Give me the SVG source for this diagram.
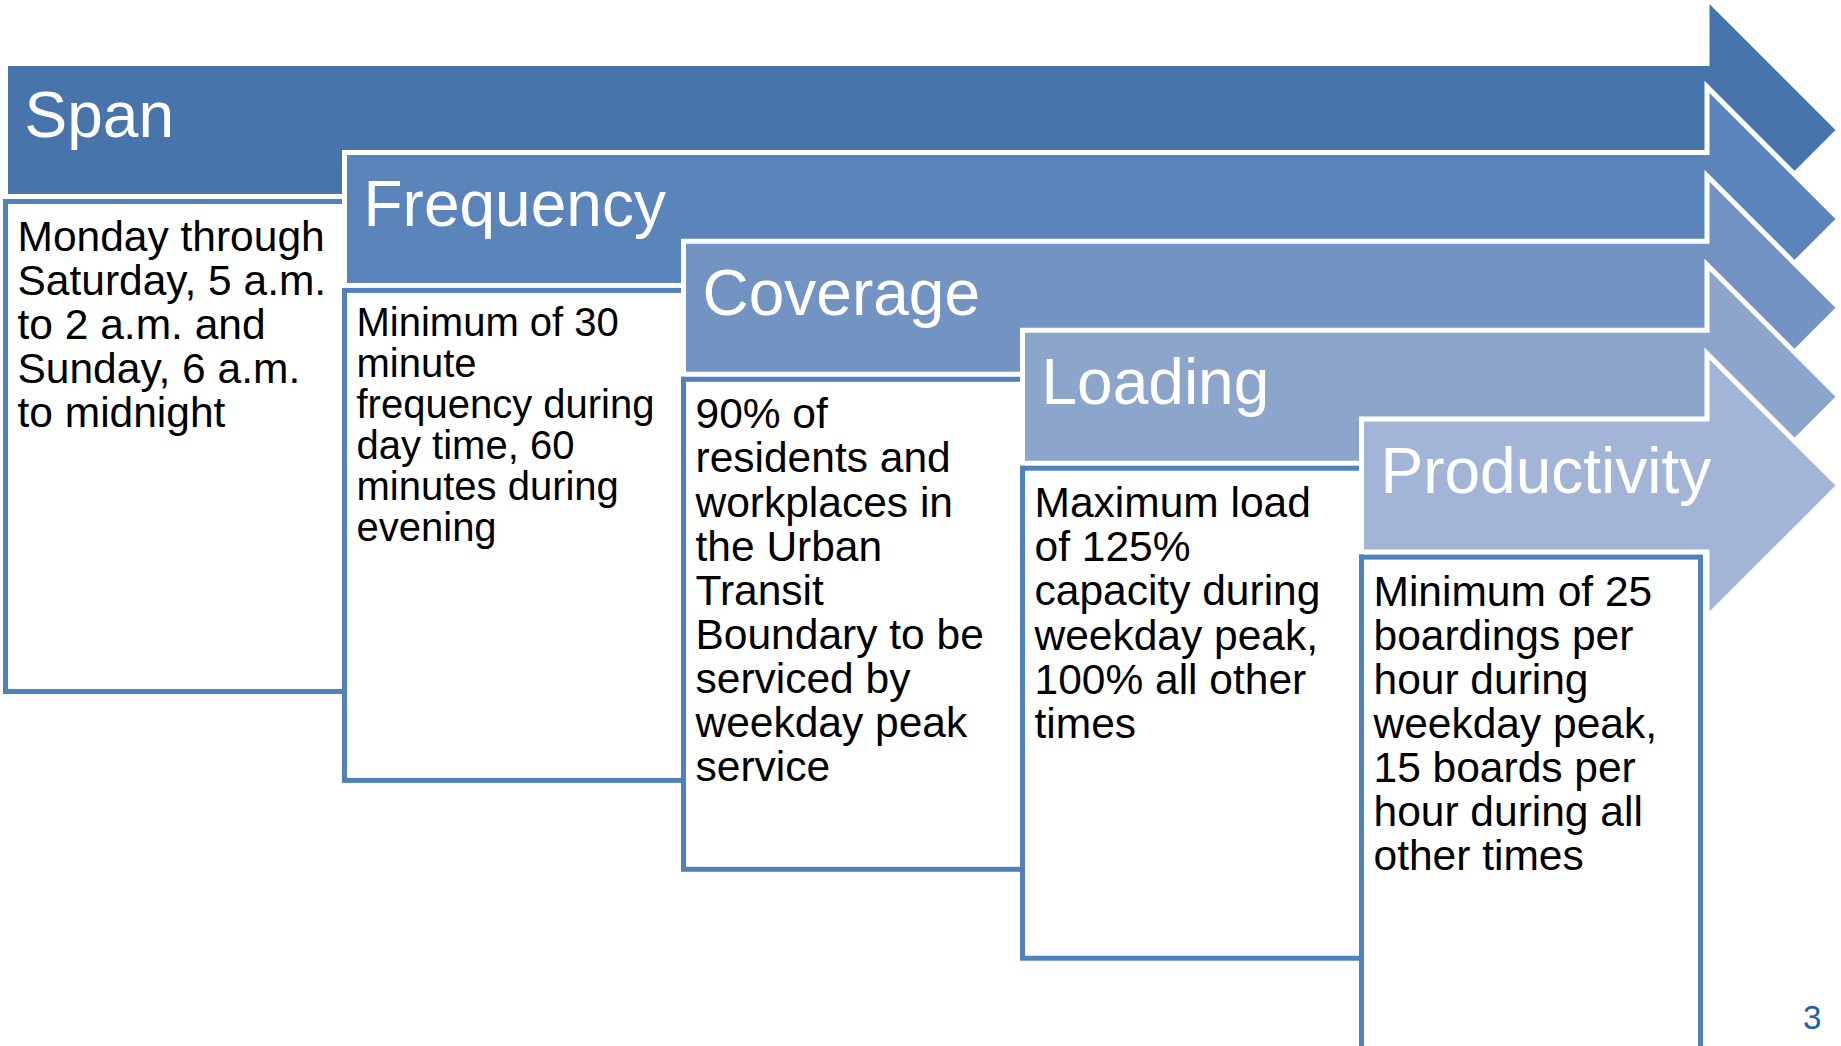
<svg xmlns="http://www.w3.org/2000/svg" width="1841" height="1046" viewBox="0 0 1841 1046">
<style>
.arrow{stroke:#FFFFFF;stroke-width:5;stroke-linejoin:miter;stroke-miterlimit:10}
.box{fill:#FFFFFF;stroke:#4F81BD;stroke-width:5}
.head{font-family:"Liberation Sans",Arial,sans-serif;font-size:64px;fill:#FFFFFF}
.body{font-family:"Liberation Sans",Arial,sans-serif;font-size:42.5px;fill:#000000}
.small{font-size:40px}
.pnum{font-family:"Liberation Sans",Arial,sans-serif;font-size:33px;fill:#1A62A6}
</style>
<rect x="0" y="0" width="1841" height="1046" fill="#FFFFFF"/>
<g id="connectors"/>

<g id="span">
<polygon class="arrow" fill="#4774AB" points="5.5,63.5 1707,63.5 1707,-2 1839,130 1707,262 1707,196.5 5.5,196.5"/>
<text class="head" x="24.5" y="137">Span</text>
<rect class="box" x="5.5" y="201.5" width="339" height="490"/>
<text class="body" x="17.5" y="250.7">
<tspan x="17.5" y="250.7">Monday through</tspan>
<tspan x="17.5" y="294.8">Saturday, 5 a.m.</tspan>
<tspan x="17.5" y="338.9">to 2 a.m. and</tspan>
<tspan x="17.5" y="383">Sunday, 6 a.m.</tspan>
<tspan x="17.5" y="427.1">to midnight</tspan>
</text>
</g>

<g id="frequency">
<polygon class="arrow" fill="#5B84BA" points="344.5,152.4 1707,152.4 1707,86.9 1839,218.9 1707,350.9 1707,285.4 344.5,285.4"/>
<text class="head" x="363.5" y="225.9">Frequency</text>
<rect class="box" x="344.5" y="290.4" width="339" height="490"/>
<text class="body small" x="356.5" y="336">
<tspan x="356.5" y="336">Minimum of 30</tspan>
<tspan x="356.5" y="377">minute</tspan>
<tspan x="356.5" y="418">frequency during</tspan>
<tspan x="356.5" y="459">day time, 60</tspan>
<tspan x="356.5" y="500">minutes during</tspan>
<tspan x="356.5" y="541">evening</tspan>
</text>
</g>

<g id="coverage">
<polygon class="arrow" fill="#7394C3" points="683.5,241.3 1707,241.3 1707,175.8 1839,307.8 1707,439.8 1707,374.3 683.5,374.3"/>
<text class="head" x="702.5" y="314.8">Coverage</text>
<rect class="box" x="683.5" y="379.3" width="339" height="490"/>
<text class="body" x="695.5" y="428.3">
<tspan x="695.5" y="428.3">90% of</tspan>
<tspan x="695.5" y="472.4">residents and</tspan>
<tspan x="695.5" y="516.5">workplaces in</tspan>
<tspan x="695.5" y="560.6">the Urban</tspan>
<tspan x="695.5" y="604.7">Transit</tspan>
<tspan x="695.5" y="648.8">Boundary to be</tspan>
<tspan x="695.5" y="692.9">serviced by</tspan>
<tspan x="695.5" y="737">weekday peak</tspan>
<tspan x="695.5" y="781.1">service</tspan>
</text>
</g>

<g id="loading">
<polygon class="arrow" fill="#8BA5CB" points="1022.5,330.2 1707,330.2 1707,264.7 1839,396.7 1707,528.7 1707,463.2 1022.5,463.2"/>
<text class="head" x="1041.5" y="403.7">Loading</text>
<rect class="box" x="1022.5" y="468.2" width="339" height="490"/>
<text class="body" x="1034.5" y="517.2">
<tspan x="1034.5" y="517.2">Maximum load</tspan>
<tspan x="1034.5" y="561.3">of 125%</tspan>
<tspan x="1034.5" y="605.4">capacity during</tspan>
<tspan x="1034.5" y="649.5">weekday peak,</tspan>
<tspan x="1034.5" y="693.6">100% all other</tspan>
<tspan x="1034.5" y="737.7">times</tspan>
</text>
</g>

<g id="productivity">
<polygon class="arrow" fill="#A2B5D6" points="1361.5,419.1 1707,419.1 1707,353.6 1839,485.6 1707,617.6 1707,552.1 1361.5,552.1"/>
<text class="head" x="1380.5" y="492.6">Productivity</text>
<rect class="box" x="1361.5" y="557.1" width="339" height="495"/>
<text class="body" x="1373.5" y="605.5">
<tspan x="1373.5" y="605.5">Minimum of 25</tspan>
<tspan x="1373.5" y="649.6">boardings per</tspan>
<tspan x="1373.5" y="693.7">hour during</tspan>
<tspan x="1373.5" y="737.8">weekday peak,</tspan>
<tspan x="1373.5" y="781.9">15 boards per</tspan>
<tspan x="1373.5" y="826">hour during all</tspan>
<tspan x="1373.5" y="870.1">other times</tspan>
</text>
</g>

<g id="page-number">
<text class="pnum" x="1803" y="1029">3</text>
</g>
</svg>
